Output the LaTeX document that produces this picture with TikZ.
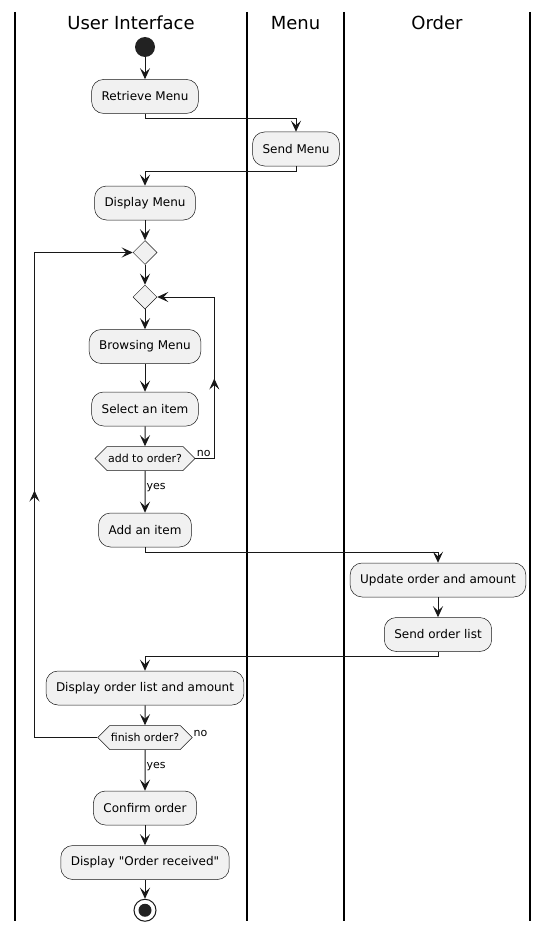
\documentclass[tikz,border=0pt]{standalone}
\usepackage{fontspec}
\setmainfont{DejaVu Sans}[Ligatures=TeXOff]
\usetikzlibrary{arrows.meta, positioning, shapes.geometric, shapes.symbols, decorations.markings}
\definecolor{actfill}{HTML}{F1F1F1}
\definecolor{ink}{HTML}{181818}
\definecolor{dot}{HTML}{222222}

\begin{document}
\begin{tikzpicture}[
    x=1pt, y=-1pt,
    node distance=20pt,
    act/.style={rectangle, rounded corners=12pt, draw=ink, line width=0.5pt, fill=actfill, minimum height=34pt, inner xsep=10pt, font=\fontsize{12}{14}\selectfont},
    merge/.style={diamond, draw=ink, line width=0.5pt, fill=actfill, minimum width=24pt, minimum height=24pt, inner sep=0pt},
    ask/.style={signal, signal to=east and west, signal pointer angle=90, draw=ink, line width=0.5pt, fill=actfill, minimum height=24pt, inner xsep=1pt, font=\fontsize{11}{13}\selectfont},
    startdot/.style={circle, fill=dot, minimum size=20pt, inner sep=0pt},
    enddot/.style={circle, draw=ink, line width=1pt, fill=white, minimum size=22pt, inner sep=0pt,
        path picture={\fill[dot] (path picture bounding box.center) circle (6.5pt);}},
    flow/.style={draw=ink, line width=1pt, -{Stealth[length=11pt, width=10pt, inset=4.5pt]}},
    backarrow/.style={postaction={decorate}, decoration={markings,
        mark=at position #1 with {\arrow{Stealth[length=11pt, width=10pt, inset=4.5pt]}}}},
    lane/.style={line width=1.5pt, black},
    tag/.style={font=\fontsize{11}{13}\selectfont, inner sep=1pt},
    title/.style={font=\fontsize{18}{22}\selectfont},
]
    \useasboundingbox (0,0) rectangle (549,931);

    % swimlanes
    \foreach \x in {15,247,344,530}
        \draw[lane] (\x,12) -- (\x,921);
    \node[title] (uititle) at (131,23) {User Interface};
    \node[title] (menutitle) at (295.5,23) {Menu};
    \node[title] (ordertitle) at (437,23) {Order};

    % User Interface
    \node[startdot] (start) at (145,47) {};
    \node[act, below=22pt of start] (retrieve) {Retrieve Menu};
    \node[act] (dispmenu) at (145,203) {Display Menu};
    \node[merge, below=of dispmenu] (outerloop) {};
    \node[merge, below=of outerloop] (innerloop) {};
    \node[act, below=of innerloop] (browse) {Browsing Menu};
    \node[act, below=28pt of browse] (select) {Select an item};
    \node[ask, below=of select] (addq) {add to order?};
    \node[act, below=42pt of addq] (additem) {Add an item};
    \node[act] (disporder) at (145,688) {Display order list and amount};
    \node[ask, below=of disporder] (finq) {finish order?};
    \node[act, below=41pt of finq] (confirm) {Confirm order};
    \node[act, below=of confirm] (received) {Display "Order received"};
    \node[enddot, below=19pt of received] (stop) {};

    % Menu
    \node[act] (sendmenu) at (296,149) {Send Menu};

    % Order
    \node[act] (update) at (438,580) {Update order and amount};
    \node[act, below=of update] (sendlist) {Send order list};

    % flows
    \draw[flow] (start) -- (retrieve);
    \draw[flow] (retrieve.south) -- ++(0,5) -| (sendmenu.north);
    \draw[flow] (sendmenu.south) -- ++(0,5) -| (dispmenu.north);
    \draw[flow] (dispmenu) -- (outerloop);
    \draw[flow] (outerloop) -- (innerloop);
    \draw[flow] (innerloop) -- (browse);
    \draw[flow] (browse) -- (select);
    \draw[flow] (select) -- (addq);
    \draw[flow] (addq) -- node[tag, right, yshift=4pt] {yes} (additem);
    \draw[flow, backarrow=99pt] (addq.east) node[tag, above right] {no}
        -- ++(19,0) |- (innerloop.east);
    \draw[flow] (additem.south) -- ++(0,5) -| (update.north);
    \draw[flow] (update) -- (sendlist);
    \draw[flow] (sendlist.south) -- ++(0,5) -| (disporder.north);
    \draw[flow] (disporder) -- (finq);
    \draw[flow, backarrow=310pt] (finq.west) -- ++(-63,0) |- (outerloop.west);
    \node[tag, above right] at (finq.east) {no};
    \draw[flow] (finq) -- node[tag, right, yshift=4pt] {yes} (confirm);
    \draw[flow] (confirm) -- (received);
    \draw[flow] (received) -- (stop);
\end{tikzpicture}
\end{document}
